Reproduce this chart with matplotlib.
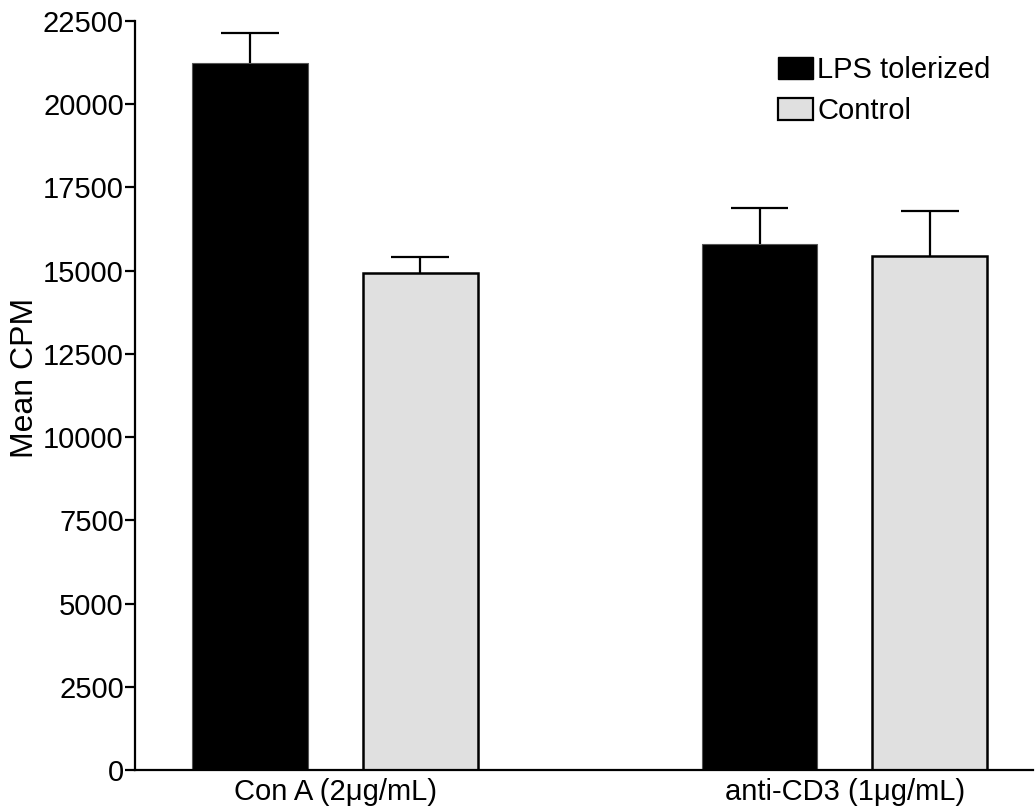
import matplotlib
matplotlib.use("Agg")
import matplotlib.pyplot as plt
from matplotlib.patches import Patch

plt.rcParams['font.family'] = ['Liberation Sans', 'DejaVu Sans']

groups = ["Con A (2μg/mL)", "anti-CD3 (1μg/mL)"]
series = ["LPS tolerized", "Control"]
lps_means = [21240, 15790]
lps_err = [900, 1080]
ctrl_means = [14930, 15440]
ctrl_err = [480, 1340]
yticks = [0, 2500, 5000, 7500, 10000, 12500, 15000, 17500, 20000, 22500]

colors = ["#000000", "#e0e0e0"]
FS = 21

fig = plt.figure(figsize=(10.35, 8.11), dpi=100)
ax = fig.add_axes([0.1304, 0.0506, 0.868, 0.9235])

group_centers = [1.74, 6.17]
offset = 0.74
w = 1.0
cap = 0.25
lps_x = [c - offset for c in group_centers]
ctrl_x = [c + offset for c in group_centers]

ax.bar(lps_x, lps_means, width=w, color=colors[0], edgecolor='#555555', linewidth=0.8, zorder=2)
ax.bar(ctrl_x, ctrl_means, width=w, color=colors[1], edgecolor='black', linewidth=1.8, zorder=2)

for xs, ms, es in [(lps_x, lps_means, lps_err), (ctrl_x, ctrl_means, ctrl_err)]:
    for x, m, e in zip(xs, ms, es):
        ax.vlines(x, m, m + e, colors='black', linewidth=1.6, zorder=1)
        ax.hlines(m + e, x - cap, x + cap, colors='black', linewidth=1.6, zorder=1)

ax.set_xlim(0, 7.81)
ax.set_ylim(0, 22500)
ax.set_yticks(yticks)
ax.set_yticklabels([str(t) for t in yticks], fontsize=FS)
ax.set_xticks(group_centers)
ax.set_xticklabels(groups, fontsize=FS)
ax.tick_params(axis='x', length=0, pad=5.5)
ax.tick_params(axis='y', direction='out', length=7.5, width=1.6, pad=0.5)
ax.spines['top'].set_visible(False)
ax.spines['right'].set_visible(False)
ax.spines['left'].set_linewidth(1.6)
ax.spines['bottom'].set_linewidth(1.6)
fig.text(25/1035, 1 - 378/811, "Mean CPM", fontsize=23, rotation=90,
         ha='center', va='center')

handles = [Patch(facecolor=colors[0], edgecolor='black', linewidth=1.0),
           Patch(facecolor=colors[1], edgecolor='black', linewidth=1.6)]
fig.legend(handles, series, loc='upper left', bbox_to_anchor=(778/1035, 1 - 56/811),
           frameon=False, fontsize=FS, handlelength=1.2, handleheight=0.8,
           handletextpad=0.15, labelspacing=0.45, borderpad=0, borderaxespad=0)

fig.savefig("out.png", dpi=100)
